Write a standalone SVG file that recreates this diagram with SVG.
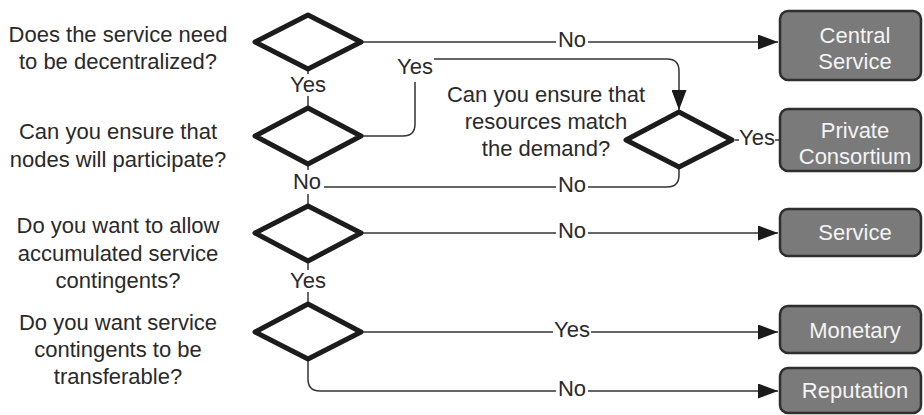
<svg xmlns="http://www.w3.org/2000/svg" width="924" height="415" viewBox="0 0 924 415">
<style>
text{font-family:"Liberation Sans",Arial,sans-serif;font-size:22px;fill:#2a2a2a;text-anchor:middle}
.dia{fill:#fff;stroke:#1c1c1c;stroke-width:5;stroke-linejoin:round}
.box{fill:#7a7a7a;stroke:#2e2e2e;stroke-width:2.5}
.bt{fill:#f4f4f4}
.ln{fill:none;stroke:#333;stroke-width:1.5}
.bg{fill:#fff}
</style>
<defs>
<marker id="arr" markerWidth="20" markerHeight="15" refX="20" refY="7.5" orient="auto" markerUnits="userSpaceOnUse">
<path d="M0,0 L20,7.5 L0,15 Z" fill="#1a1a1a"/>
</marker>
</defs>
<g id="questions">
<text x="118" y="42">Does the service need</text>
<text x="118" y="69">to be decentralized?</text>
<text x="118" y="139">Can you ensure that</text>
<text x="118" y="167">nodes will participate?</text>
<text x="118" y="233">Do you want to allow</text>
<text x="118" y="261">accumulated service</text>
<text x="118" y="288">contingents?</text>
<text x="118" y="330">Do you want service</text>
<text x="118" y="357">contingents to be</text>
<text x="118" y="384">transferable?</text>
<text x="546" y="102">Can you ensure that</text>
<text x="546" y="129">resources match</text>
<text x="546" y="156">the demand?</text>
</g>
<g id="connectors">
<path class="ln" d="M361,42 H778" marker-end="url(#arr)"/>
<path class="ln" d="M308,69 V108"/>
<path class="ln" d="M361,136 H403 Q415,136 415,124 V71 Q415,59 427,59 H667 Q679,59 679,71 V110" marker-end="url(#arr)"/>
<path class="ln" d="M308,164 V206"/>
<path class="ln" d="M308,187 H667 Q679,187 679,175 V167"/>
<path class="ln" d="M735,140 H780"/>
<path class="ln" d="M361,233 H778" marker-end="url(#arr)"/>
<path class="ln" d="M308,261 V304"/>
<path class="ln" d="M361,332 H778" marker-end="url(#arr)"/>
<path class="ln" d="M308,359 V379 Q308,391 320,391 H778" marker-end="url(#arr)"/>
<g id="labels">
<rect class="bg" x="556" y="30" width="32" height="20"/><text x="572" y="47">No</text>
<rect class="bg" x="289" y="74" width="38" height="22"/><text x="308" y="92">Yes</text>
<rect class="bg" x="396" y="52" width="38" height="30"/><text x="415" y="74">Yes</text>
<rect class="bg" x="292" y="170" width="32" height="24"/><text x="307" y="189">No</text>
<rect class="bg" x="556" y="175" width="32" height="20"/><text x="572" y="191.5">No</text>
<rect class="bg" x="739" y="127" width="36" height="22"/><text x="757" y="144.5">Yes</text>
<rect class="bg" x="556" y="221" width="32" height="20"/><text x="572" y="237.5">No</text>
<rect class="bg" x="289" y="270" width="38" height="22"/><text x="308" y="288">Yes</text>
<rect class="bg" x="553" y="320" width="38" height="20"/><text x="572" y="336.5">Yes</text>
<rect class="bg" x="556" y="379" width="32" height="20"/><text x="572" y="395.5">No</text>
</g>
</g>
<g id="d1"><path class="dia" d="M308,15 L361,42 L308,69 L255,42 Z"/></g>
<g id="d2"><path class="dia" d="M308,108 L361,136 L308,164 L255,136 Z"/></g>
<g id="d3"><path class="dia" d="M308,206 L361,233 L308,261 L255,233 Z"/></g>
<g id="d4"><path class="dia" d="M308,304 L361,332 L308,359 L255,332 Z"/></g>
<g id="dr"><path class="dia" d="M679,112 L732,140 L679,167 L626,140 Z"/></g>
<g id="central"><rect class="box" x="780" y="11" width="141" height="69" rx="8"/><text class="bt" x="855" y="43">Central</text><text class="bt" x="855" y="69">Service</text></g>
<g id="private"><rect class="box" x="780" y="109" width="141" height="62" rx="8"/><text class="bt" x="855" y="138">Private</text><text class="bt" x="855" y="164">Consortium</text></g>
<g id="service"><rect class="box" x="780" y="209" width="141" height="47" rx="8"/><text class="bt" x="855" y="240">Service</text></g>
<g id="monetary"><rect class="box" x="780" y="306" width="141" height="47" rx="8"/><text class="bt" x="855" y="338">Monetary</text></g>
<g id="reputation"><rect class="box" x="780" y="368" width="141" height="45" rx="8"/><text class="bt" x="855" y="398">Reputation</text></g>
</svg>
